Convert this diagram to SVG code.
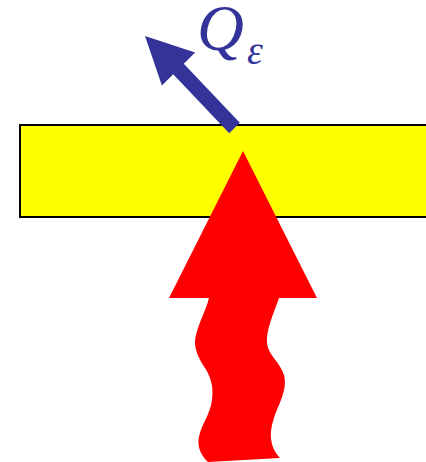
<svg xmlns="http://www.w3.org/2000/svg" width="426" height="462" viewBox="0 0 426 462">
<style>
.plate{fill:#ffff00;stroke:#000;stroke-width:2}
.heat{fill:#ff0000}
.flux{fill:#333399}
.lbl{fill:#333399;font-family:"Liberation Serif","DejaVu Serif",serif;font-style:italic}
</style>
<rect width="426" height="462" fill="#fff"/>
<g id="plate">
<rect class="plate" x="20" y="125" width="412" height="92"/>
</g>
<g id="connectors">
<g id="heat-arrow">
<path class="heat" d="M243,151 L317,298 L279,298 C273,315 266,330 267,343 C268,355 280,362 284,375 C288,390 278,405 274,418 C270,430 268,445 280,458 L208,462 C200,455 197,445 199,437 C201,425 210,415 212,400 C214,385 210,375 203,365 C197,355 193,345 196,335 C199,322 206,310 209,298 L169,298 Z"/>
</g>
<g id="flux-arrow">
<polygon class="flux" points="145,36 195.1,52.4 183.8,63.7 239.8,122.7 229.2,133.3 173.2,74.3 161.9,85.6"/>
</g>
</g>
<g id="label">
<text class="lbl" x="197" y="50" font-size="65">Q<tspan font-size="40" dx="3" y="64">ε</tspan></text>
</g>
</svg>
